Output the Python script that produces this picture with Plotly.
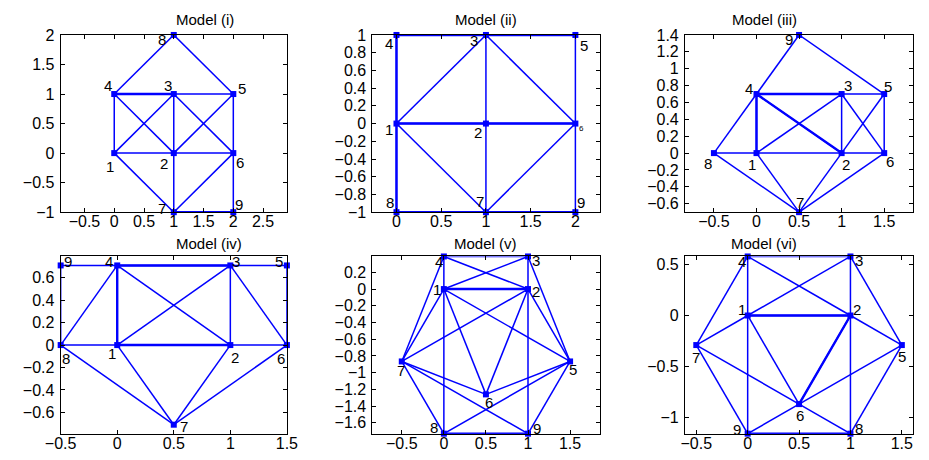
import plotly.graph_objects as go

# ---------------- data ----------------
titles = ["Model (i)", "Model (ii)", "Model (iii)", "Model (iv)", "Model (v)", "Model (vi)"]

# node coordinates, nodes numbered 1..9
nodes_x = [
    [0, 1, 1, 0, 2, 2, 1, 1, 2],
    [0, 1, 1, 0, 2, 2, 1, 0, 2],
    [0, 1, 1, 0, 1.5, 1.5, 0.5, -0.5, 0.5],
    [0, 1, 1, 0, 1.5, 1.5, 0.5, -0.5, -0.5],
    [0, 1, 1, 0, 1.5, 0.5, -0.5, 0, 1],
    [0, 1, 1, 0, 1.5, 0.5, -0.5, 1, 0],
]
nodes_y = [
    [0, 0, 1, 1, 1, 0, -1, 2, -1],
    [0, 0, 1, 1, 1, 0, -1, -1, -1],
    [0, 0, 0.7, 0.7, 0.7, 0, -0.7, 0, 1.4],
    [0, 0, 0.71, 0.71, 0.71, 0, -0.71, 0, 0.71],
    [0, 0, 0.39, 0.39, -0.866, -1.26, -0.866, -1.73, -1.73],
    [0, 0, 0.577, 0.577, -0.289, -0.866, -0.289, -1.155, -1.155],
]

edges = [
    [(4, 8), (8, 5), (4, 3), (3, 5), (4, 1), (4, 2), (1, 3), (3, 2), (3, 6), (2, 5),
     (5, 6), (1, 2), (2, 6), (1, 7), (2, 7), (6, 7), (6, 9), (7, 9)],
    [(4, 3), (3, 5), (4, 1), (1, 8), (1, 3), (3, 2), (3, 6), (1, 2), (2, 6), (1, 7),
     (2, 7), (6, 7), (8, 7), (7, 9), (5, 6), (6, 9)],
    [(4, 9), (9, 5), (4, 3), (3, 5), (4, 1), (4, 2), (4, 8), (3, 1), (3, 2), (3, 6),
     (5, 2), (5, 6), (8, 1), (1, 2), (2, 6), (8, 7), (1, 7), (2, 7), (6, 7)],
    [(9, 4), (4, 3), (3, 5), (9, 8), (4, 8), (4, 1), (4, 2), (3, 1), (3, 2), (3, 6),
     (5, 6), (8, 1), (1, 2), (2, 6), (8, 7), (1, 7), (2, 7), (6, 7)],
    [(4, 3), (4, 2), (3, 1), (4, 1), (3, 2), (4, 7), (3, 5), (1, 2), (1, 7), (2, 7),
     (1, 5), (2, 5), (1, 6), (2, 6), (7, 6), (5, 6), (7, 9), (5, 8), (7, 8), (5, 9),
     (8, 9), (1, 8), (2, 9)],
    [(4, 3), (4, 2), (3, 1), (4, 1), (3, 2), (4, 7), (3, 5), (1, 2), (1, 7), (2, 5),
     (1, 6), (2, 6), (7, 6), (5, 6), (7, 9), (5, 8), (6, 9), (6, 8), (8, 9), (1, 9),
     (2, 8)],
]

xtick_labels = [
    ["−0.5", "0", "0.5", "1", "1.5", "2", "2.5"],
    ["0", "0.5", "1", "1.5", "2"],
    ["−0.5", "0", "0.5", "1", "1.5"],
    ["−0.5", "0", "0.5", "1", "1.5"],
    ["−0.5", "0", "0.5", "1", "1.5"],
    ["−0.5", "0", "0.5", "1", "1.5"],
]
ytick_labels = [
    ["−1", "−0.5", "0", "0.5", "1", "1.5", "2"],
    ["−1", "−0.8", "−0.6", "−0.4", "−0.2", "0", "0.2", "0.4", "0.6", "0.8", "1"],
    ["−0.6", "−0.4", "−0.2", "0", "0.2", "0.4", "0.6", "0.8", "1", "1.2", "1.4"],
    ["−0.6", "−0.4", "−0.2", "0", "0.2", "0.4", "0.6"],
    ["−1.6", "−1.4", "−1.2", "−1", "−0.8", "−0.6", "−0.4", "−0.2", "0", "0.2"],
    ["−1", "−0.5", "0", "0.5"],
]

# ---------------- style ----------------
BLUE = "#0000FF"
FONT = "Liberation Sans, Arial, Helvetica, sans-serif"
W, H = 929, 460

# axes boxes in pixels: (left, right, top, bottom)
boxes = [(46, 279, 28, 212), (367, 601, 28, 212), (689, 924, 28, 212),
         (46, 279, 258, 442), (367, 601, 258, 442), (689, 924, 258, 442)]
title_y = [12, 12, 12, 245, 245, 245]
xranges = [[-0.9, 2.9], [-0.27, 2.27], [-0.84, 1.84], [-0.5, 1.5], [-0.85, 1.85], [-0.61, 1.61]]
yranges = [[-1, 2], [-1, 1], [-0.7, 1.4], [-0.79, 0.79], [-1.73, 0.39], [-1.155, 0.577]]

# heavier-looking edges
thick = [
    [(4, 3), (7, 9)],
    [(1, 2), (2, 6), (4, 1), (1, 8), (8, 7), (7, 9), (4, 3), (3, 5)],
    [(4, 1), (4, 2), (4, 3)],
    [(4, 1), (1, 2), (4, 3)],
    [(1, 2), (8, 9)],
    [(1, 2), (2, 6), (8, 9)],
]

# label pixel offsets (dx right, dy down) per node
label_off = [
    [(-4, 13), (-10, 10), (-6, -9), (-6, -9), (9, -6), (7, 9), (-12, -4), (-12, 5), (6, -8)],
    [(-7, 6), (-8, 9), (-12, 6), (-7, 9), (9, 11), (6, 5), (-6, -11), (-6, -10), (6, -10)],
    [(-4, 11), (4, 11), (6, -9), (-7, -6), (4, -8), (6, 8), (1, -10), (-6, 10), (-10, 5)],
    [(-5, 8), (5, 12), (6, -4), (-8, -4), (-8, -4), (-6, 13), (10, 2), (5, 13), (7, -4)],
    [(-7, 0), (8, 2), (8, 4), (-5, 5), (3, 8), (3, 8), (-1, 9), (-10, -6), (9, -5)],
    [(-6, -6), (7, -6), (9, 4), (-6, 5), (0, 11), (1, 11), (0, 12), (9, -5), (-11, -4)],
]

fig = go.Figure()
annotations = []

for p in range(6):
    xs, ys = nodes_x[p], nodes_y[p]
    sfx = "" if p == 0 else str(p + 1)
    xa, ya = "x" + sfx, "y" + sfx

    lx, ly = [], []
    for a, b in edges[p]:
        lx += [xs[a - 1], xs[b - 1], None]
        ly += [ys[a - 1], ys[b - 1], None]
    fig.add_trace(go.Scatter(x=lx, y=ly, mode="lines", xaxis=xa, yaxis=ya,
                             line=dict(color=BLUE, width=1.5), hoverinfo="skip",
                             showlegend=False, cliponaxis=False))
    tx, ty = [], []
    for a, b in thick[p]:
        tx += [xs[a - 1], xs[b - 1], None]
        ty += [ys[a - 1], ys[b - 1], None]
    fig.add_trace(go.Scatter(x=tx, y=ty, mode="lines", xaxis=xa, yaxis=ya,
                             line=dict(color=BLUE, width=2.4), hoverinfo="skip",
                             showlegend=False, cliponaxis=False))
    fig.add_trace(go.Scatter(x=xs, y=ys, mode="markers", xaxis=xa, yaxis=ya,
                             marker=dict(symbol="square", size=6, color=BLUE),
                             showlegend=False, cliponaxis=False))

    for i in range(9):
        dx, dy = label_off[p][i]
        size = 8 if (p == 1 and i == 5) else 15
        annotations.append(dict(x=xs[i], y=ys[i], xref=xa, yref=ya, text=str(i + 1),
                                showarrow=False, xshift=dx, yshift=-dy,
                                font=dict(family=FONT, size=size, color="black")))

    l, r, t, b = boxes[p]
    xd = [l / W, r / W]
    yd = [1 - b / H, 1 - t / H]
    xvals = [float(s.replace("−", "-")) for s in xtick_labels[p]]
    yvals = [float(s.replace("−", "-")) for s in ytick_labels[p]]
    axis_common = dict(showgrid=False, zeroline=False, showline=True, linecolor="black",
                       linewidth=1, mirror="ticks", ticks="inside", ticklen=4,
                       tickcolor="black", tickwidth=1,
                       tickfont=dict(family=FONT, size=16, color="black"))
    fig.layout["xaxis" + sfx] = dict(domain=xd, range=xranges[p], anchor=ya,
                                     tickvals=xvals, ticktext=xtick_labels[p],
                                     ticklabelstandoff=-5, **axis_common)
    fig.layout["yaxis" + sfx] = dict(domain=yd, range=yranges[p], anchor=xa,
                                     tickvals=yvals, ticktext=ytick_labels[p],
                                     ticklabelstandoff=2, **axis_common)
    annotations.append(dict(x=(l + r) / 2 / W, y=1 - title_y[p] / H, xref="paper", yref="paper",
                            text=titles[p], showarrow=False, yanchor="middle",
                            font=dict(family=FONT, size=15, color="black")))

fig.update_layout(width=W, height=H, margin=dict(l=0, r=0, t=0, b=0),
                  paper_bgcolor="white", plot_bgcolor="white", annotations=annotations)

fig.write_html("out.html", config={"displayModeBar": False},
               post_script="document.body.style.margin='0';document.body.style.overflow='hidden';")
